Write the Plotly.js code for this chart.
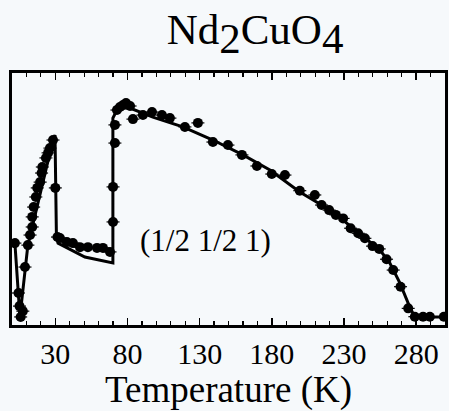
<!DOCTYPE html>
<html>
<head>
<meta charset="utf-8">
<script src="https://cdn.plot.ly/plotly-3.0.1.min.js"></script>
<style>
html,body{margin:0;padding:0;background:#f6f9fb;}
#chart{width:449px;height:411px;}
</style>
</head>
<body>
<div id="chart"></div>
<script>
// Measured data: temperature (K) and intensity (arb. units, 0-100 full frame)
const dataT = [2, 4.5, 5.2, 6, 7.5, 9, 11, 12.5, 14, 14, 15, 16.5, 17.5, 19.5, 20.5, 21, 23.5, 25, 26.3, 28.4,
  30, 31.5, 33.2, 38, 42.2, 47.1, 52.6, 58.9, 63, 67.9,
  70, 70, 71.3, 71.3, 72.7, 74.8, 76.9, 79.0, 81.8, 83.8, 90.7, 97, 103.9, 109.4, 119.8, 128.8,
  139.2, 149.6, 159.3, 169.7, 180, 189.1, 199.4, 209.8, 214.5, 219.7, 224.4, 229.4, 234.6, 239.8,
  244.5, 249.8, 254.4, 259.5, 264.1, 269.2, 274.5, 279.1, 284.8, 289.5, 299.2];
const dataI = [32.5, 12.7, 7.5, 3.2, 5.5, 23.0, 31.7, 35.7, 38.9, 42.9, 46.8, 50.8, 54.4, 56.7, 60.3, 62.7, 66.3, 68.3, 70.2, 73.4,
  54.4, 34.9, 34.5, 32.9, 32.5, 30.9, 30.9, 30.6, 30.6, 29.0,
  40.9, 54.8, 72.2, 79.4, 85.3, 86.5, 87.3, 88.1, 86.9, 81.7, 83.3, 84.5, 83.3, 82.1, 78.6, 80.2,
  72.6, 71.4, 67.5, 63.1, 59.9, 59.5, 53.3, 51.6, 47.6, 45.6, 43.7, 42.3, 38.4, 36.4,
  34.4, 31.3, 30.2, 26.1, 21.8, 15.2, 6.6, 3.3, 3.3, 3.3, 3.3];
const errT = 4.5;

// Guide/fit line through the data
const lineT = [2, 5.5, 11, 28.4, 29.8, 30.8, 31.9, 50.5, 69.9, 69.9, 73.4, 81.7, 97.6, 118.4, 139.2, 160, 178.7,
  199.4, 213.3, 229.2, 241, 254.8, 261.8, 268.7, 275.6, 279.1, 299.2];
const lineI = [32.5, 3.2, 31.7, 73.4, 75.4, 34.5, 32.5, 27.0, 24.6, 82.1, 86.1, 86.1, 82.5, 78.6, 73.4, 67.5, 61.5,
  52.8, 48.0, 41.7, 36.1, 29.8, 24.6, 16.7, 7.1, 3.2, 3.2];

const titleText = 'Nd<sub><span style="font-size:43px">2</span></sub>CuO<sub><span style="font-size:43px">4</span></sub>';
const xTitle = 'Temperature (K)';
const peakLabel = '(1/2 1/2 1)';

const serif = 'Liberation Serif';
const bg = '#f6f9fb';

const traces = [
  {x: lineT, y: lineI, mode: 'lines', line: {color: '#000', width: 3}, hoverinfo: 'skip', showlegend: false},
  {x: dataT, y: dataI, mode: 'markers', marker: {color: '#000', size: 10, symbol: 'circle'},
   error_x: {type: 'constant', value: errT, thickness: 1.2, width: 0, color: '#000'}, showlegend: false}
];

const layout = {
  width: 449, height: 411,
  margin: {l: 12, r: 4, t: 73, b: 86, pad: 0},
  paper_bgcolor: bg, plot_bgcolor: bg,
  font: {family: serif, color: '#000'},
  showlegend: false,
  title: {text: titleText, font: {family: serif, size: 43, color: '#000'},
          x: 0.568, xref: 'container', xanchor: 'center', y: 0.93, yref: 'container', yanchor: 'middle'},
  xaxis: {
    range: [0, 300], showgrid: false, zeroline: false,
    showline: true, linecolor: '#000', linewidth: 3, mirror: 'allticks',
    ticks: 'inside', tick0: 30, dtick: 50, ticklen: 7, tickwidth: 1.5, tickcolor: '#000',
    minor: {ticks: 'inside', dtick: 10, tick0: 0, ticklen: 4, tickwidth: 1.2, tickcolor: '#000'},
    tickfont: {family: serif, size: 30, color: '#000'},
    title: {text: xTitle, font: {family: serif, size: 37, color: '#000'}, standoff: 7}
  },
  yaxis: {
    range: [0, 100], showgrid: false, zeroline: false,
    showline: true, linecolor: '#000', linewidth: 3, mirror: true,
    ticks: '', showticklabels: false
  },
  annotations: [
    {text: peakLabel, xref: 'x', yref: 'y', x: 134, y: 33.7, xanchor: 'center', yanchor: 'middle',
     showarrow: false, font: {family: serif, size: 31, color: '#000'}}
  ]
};

Plotly.newPlot('chart', traces, layout, {staticPlot: true, displayModeBar: false});
</script>
</body>
</html>
